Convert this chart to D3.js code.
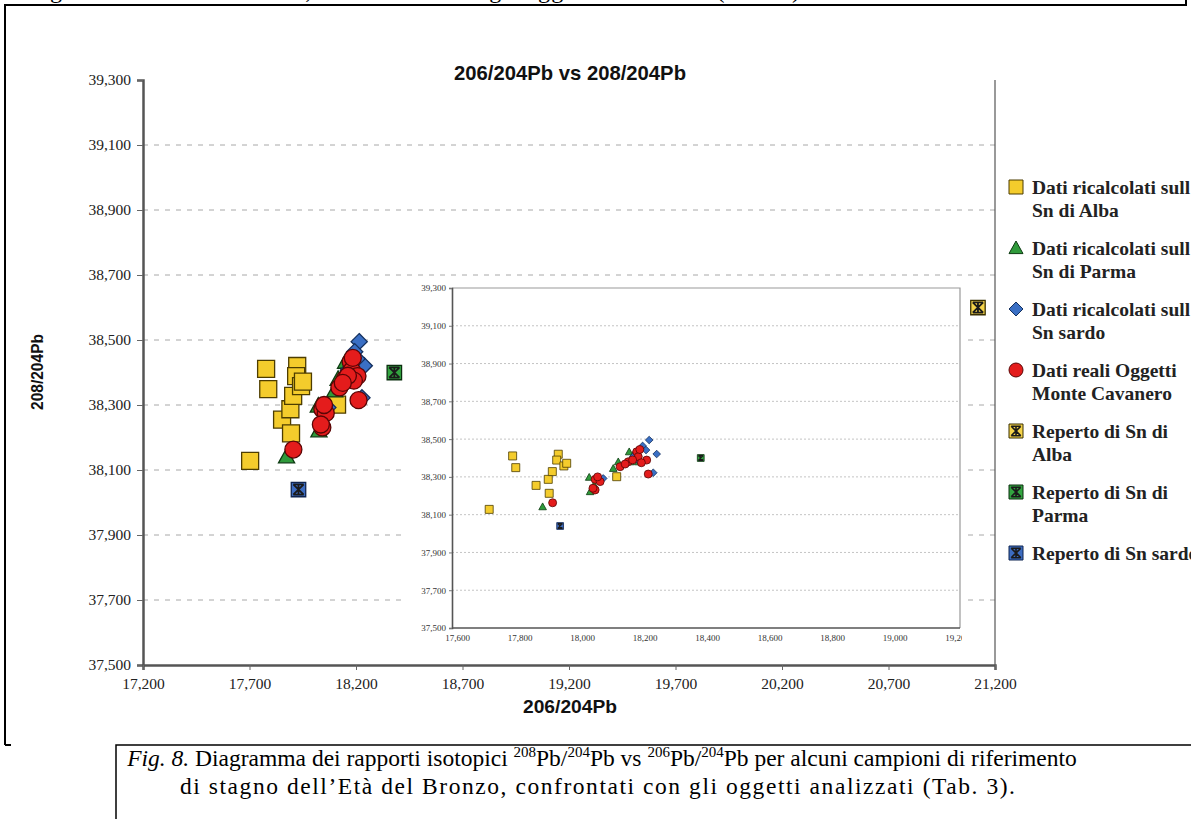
<!DOCTYPE html>
<html>
<head>
<meta charset="utf-8">
<script src="https://cdn.jsdelivr.net/npm/d3@7"></script>
<style>
body { margin: 0; background: #fff; overflow: hidden; }
</style>
</head>
<body>
<svg id="fig" width="1191" height="819"></svg>
<script>
// values: [206/204Pb, 208/204Pb]
const albaCalc = [[17703,38128],[17778,38411],[17788,38349],[17853,38255],[17892,38287],[17895,38213],
  [17905,38328],[17924,38420],[17919,38389],[17942,38358],[17951,38372],[18111,38301]];
const parmaCalc = [[17874,38142],[18023,38298],[18026,38222],[18039,38257],[18100,38345],[18116,38380],
  [18151,38433],[18154,38380],[18167,38425],[18180,38380]];
const sardoCalc = [[18215,38495],[18194,38464],[18239,38421],[18228,38322],[18205,38442],[18068,38292],
  [18164,38407],[18184,38380]];
const cavanero = [[17906,38163],[18042,38287],[18058,38275],[18042,38231],[18035,38240],[18050,38300],
  [18122,38354],[18148,38380],[18175,38433],[18180,38407],[18207,38389],[18212,38315],[18190,38375],
  [18162,38390],[18138,38368],[18185,38445]];
const albaFind = [[21120,38600]];
const parmaFind = [[18380,38400]];
const sardoFind = [[17930,38040]];

const xTicks = d3.range(17200, 21201, 500);
const yTicks = d3.range(37500, 39301, 200);
const insetXTicks = d3.range(17600, 19201, 200);

const series = [
  {label: ["Dati ricalcolati sull", "Sn di Alba"], shape: "square", fill: "#f4cc2c", stroke: "#4d3d00", data: albaCalc},
  {label: ["Dati ricalcolati sull", "Sn di Parma"], shape: "triangle", fill: "#2f9a3b", stroke: "#0d3b12", data: parmaCalc},
  {label: ["Dati ricalcolati sull", "Sn sardo"], shape: "diamond", fill: "#3a6fc4", stroke: "#14305e", data: sardoCalc},
  {label: ["Dati reali Oggetti", "Monte Cavanero"], shape: "circle", fill: "#e41c1c", stroke: "#5a0505", data: cavanero},
  {label: ["Reperto di Sn di", "Alba"], shape: "star", fill: "#f4d34a", stroke: "#3a3000", data: albaFind},
  {label: ["Reperto di Sn di", "Parma"], shape: "star", fill: "#33a540", stroke: "#0b2e0f", data: parmaFind},
  {label: ["Reperto di Sn sardo"], shape: "star", fill: "#3d6cc0", stroke: "#0f2450", data: sardoFind}
];

const svg = d3.select("#fig");
const serif = "'Liberation Serif','Times New Roman',Times,serif";
const sans = "'Liberation Sans',Arial,sans-serif";

// marker path, s = box size
function marker(shape, s) {
  const h = s / 2;
  if (shape == "square") return `M${-h},${-h}H${h}V${h}H${-h}Z`;
  if (shape == "triangle") return `M0,${-h}L${h},${h*0.8}L${-h},${h*0.8}Z`;
  if (shape == "diamond") return `M0,${-h}L${h},0L0,${h}L${-h},0Z`;
  if (shape == "circle") return d3.symbol(d3.symbolCircle, Math.PI * h * h)();
  return `M${-h},${-h}H${h}V${h}H${-h}Z`;
}
const shapeScale = {square: 1, triangle: 0.95, diamond: 0.95, circle: 1, star: 0.85};

function drawPoints(g, xs, ys, s, sw) {
  series.forEach(sr => {
    const sz = s * shapeScale[sr.shape];
    const pts = g.append("g").selectAll("g").data(sr.data).enter().append("g")
      .attr("transform", d => `translate(${xs(d[0])},${ys(d[1])})`);
    pts.append("path").attr("d", marker(sr.shape, sz))
      .attr("fill", sr.fill).attr("stroke", sr.stroke).attr("stroke-width", sw);
    if (sr.shape == "star") {
      const k = sz * 0.36;
      pts.append("path")
        .attr("d", `M${-k},${-k}L${k},${k}M${k},${-k}L${-k},${k}M0,${-k}V${k}M${-k},${-k}H${k}M${-k},${k}H${k}`)
        .attr("stroke", "#1a1a1a").attr("stroke-width", sw * 1.4);
    }
  });
}

// page text cut off at the top (end of the previous caption)
svg.append("text").attr("x", -8).attr("y", -2)
  .attr("textLength", 815).attr("lengthAdjust", "spacing")
  .style("font-family", serif).style("font-size", "24px")
  .text("di stagno dell’Età del Bronzo, confrontati con gli oggetti analizzati (Tab. 3).");

// frames
svg.append("path").attr("d", "M5,745V5H1186V0").attr("fill", "none").attr("stroke", "#000").attr("stroke-width", 2);
svg.append("path").attr("d", "M5,745H11").attr("stroke", "#000").attr("stroke-width", 2);
svg.append("path").attr("d", "M1191,745H116V819").attr("fill", "none").attr("stroke", "#000").attr("stroke-width", 1.5);

// main chart
const x = d3.scaleLinear().domain([17200, 21200]).range([143, 995]);
const y = d3.scaleLinear().domain([37500, 39300]).range([665, 80]);

svg.append("g").selectAll("line").data(yTicks.slice(1, -1)).enter().append("line")
  .attr("x1", 143).attr("x2", 995).attr("y1", d => y(d)).attr("y2", d => y(d))
  .attr("stroke", "#a8a8a8").attr("stroke-width", 1).attr("stroke-dasharray", "5,6");

svg.append("line").attr("x1", 995).attr("x2", 995).attr("y1", 80).attr("y2", 665)
  .attr("stroke", "#555").attr("stroke-width", 1.2);

const yAxis = svg.append("g").attr("transform", "translate(143,0)")
  .call(d3.axisLeft(y).tickValues(yTicks).tickFormat(d3.format(",")).tickSize(6).tickPadding(6));
const xAxis = svg.append("g").attr("transform", "translate(0,665)")
  .call(d3.axisBottom(x).tickValues(xTicks).tickFormat(d3.format(",")).tickSize(5).tickPadding(8));
[yAxis, xAxis].forEach(a => {
  a.select(".domain").attr("stroke", "#555").attr("stroke-width", 2.5);
  a.selectAll(".tick line").attr("stroke", "#666");
  a.selectAll("text").style("font-family", serif).style("font-size", "15.5px").attr("fill", "#222");
});

svg.append("text").attr("x", 570).attr("y", 80).attr("text-anchor", "middle")
  .attr("textLength", 232).attr("lengthAdjust", "spacingAndGlyphs")
  .style("font-family", sans).style("font-weight", "bold").style("font-size", "21px").attr("fill", "#111")
  .text("206/204Pb vs 208/204Pb");
svg.append("text").attr("x", 570).attr("y", 713).attr("text-anchor", "middle")
  .attr("textLength", 94).attr("lengthAdjust", "spacingAndGlyphs")
  .style("font-family", sans).style("font-weight", "bold").style("font-size", "18px").attr("fill", "#111")
  .text("206/204Pb");
svg.append("text").attr("transform", "translate(43,372) rotate(-90)").attr("text-anchor", "middle")
  .attr("textLength", 76).attr("lengthAdjust", "spacingAndGlyphs")
  .style("font-family", sans).style("font-weight", "bold").style("font-size", "17px").attr("fill", "#111")
  .text("208/204Pb");

// inset (same data, zoomed)
const ix = d3.scaleLinear().domain([17600, 19200]).range([457, 957]);
const iy = d3.scaleLinear().domain([37500, 39300]).range([628, 288]);
svg.append("defs").append("clipPath").attr("id", "insetClip")
  .append("rect").attr("x", 406).attr("y", 280).attr("width", 556).attr("height", 372);
const inset = svg.append("g").attr("clip-path", "url(#insetClip)");
inset.append("rect").attr("x", 406).attr("y", 280).attr("width", 556).attr("height", 372).attr("fill", "#fff");
inset.append("g").selectAll("line").data(yTicks.slice(1, -1)).enter().append("line")
  .attr("x1", 452).attr("x2", 960).attr("y1", d => iy(d)).attr("y2", d => iy(d))
  .attr("stroke", "#c4c4c4").attr("stroke-width", 1).attr("stroke-dasharray", "2,2");
inset.append("path").attr("d", "M452,288H960V628").attr("fill", "none").attr("stroke", "#999").attr("stroke-width", 1.2);
const iyAxis = inset.append("g").attr("transform", "translate(452,0)")
  .call(d3.axisLeft(iy).tickValues(yTicks).tickFormat(d3.format(",")).tickSize(3).tickPadding(3));
const ixAxis = inset.append("g").attr("transform", "translate(0,628)")
  .call(d3.axisBottom(ix).tickValues(insetXTicks).tickFormat(d3.format(",")).tickSize(0).tickPadding(7));
[iyAxis, ixAxis].forEach(a => {
  a.select(".domain").attr("stroke", "#555").attr("stroke-width", 1.6);
  a.selectAll(".tick line").attr("stroke", "#777");
  a.selectAll("text").style("font-family", serif).style("font-size", "9px").attr("fill", "#333");
});
ixAxis.select(".domain").attr("d", "M452,0H960");
drawPoints(inset.append("g"), ix, iy, 8, 0.8);

// main points
drawPoints(svg.append("g"), x, y, 17, 1.3);

// legend
const leg = svg.append("g").selectAll("g").data(series).enter().append("g")
  .attr("transform", (d, i) => `translate(1016,${187 + i * 61})`);
leg.each(function(sr) {
  const g = d3.select(this);
  g.append("path").attr("d", marker(sr.shape, 14))
    .attr("fill", sr.fill).attr("stroke", sr.stroke).attr("stroke-width", 1);
  if (sr.shape == "star") {
    const k = 4.8;
    g.append("path").attr("d", `M${-k},${-k}L${k},${k}M${k},${-k}L${-k},${k}M0,${-k}V${k}M${-k},${-k}H${k}M${-k},${k}H${k}`)
      .attr("stroke", "#1a1a1a").attr("stroke-width", 1.6);
  }
  sr.label.forEach((t, j) => {
    g.append("text").attr("x", 16).attr("y", 7 + j * 23)
      .style("font-family", serif).style("font-weight", "bold").style("font-size", "19.5px").attr("fill", "#222")
      .text(t);
  });
});

// caption
const cap = svg.append("g").style("font-family", serif).style("font-size", "23.5px");
const l1 = cap.append("text").attr("x", 602).attr("y", 766).attr("text-anchor", "middle");
l1.append("tspan").style("font-style", "italic").text("Fig. 8.");
l1.append("tspan").text(" Diagramma dei rapporti isotopici ");
[["208", "Pb/"], ["204", "Pb vs "], ["206", "Pb/"], ["204", "Pb per alcuni campioni di riferimento"]].forEach(p => {
  l1.append("tspan").attr("dy", -9).style("font-size", "15px").text(p[0]);
  l1.append("tspan").attr("dy", 9).text(p[1]);
});
cap.append("text").attr("x", 180).attr("y", 794)
  .attr("textLength", 835).attr("lengthAdjust", "spacing")
  .text("di stagno dell’Età del Bronzo, confrontati con gli oggetti analizzati (Tab. 3).");
</script>
</body>
</html>
